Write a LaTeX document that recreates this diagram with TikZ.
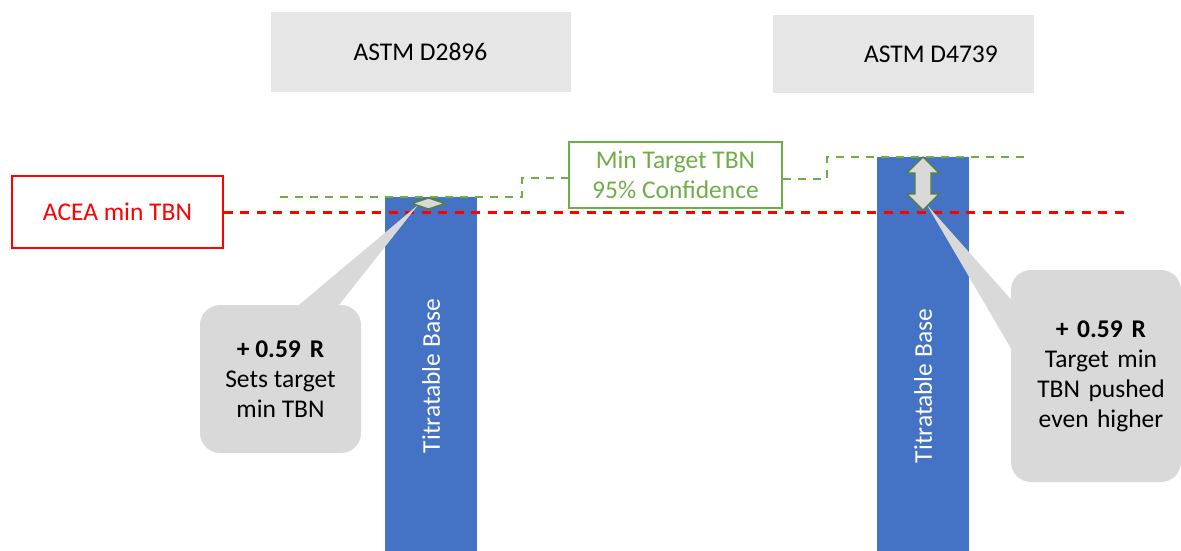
\documentclass[tikz,border=0pt]{standalone}
\usepackage{fontspec}
\setmainfont{Carlito}
\definecolor{barblue}{HTML}{4472C4}
\definecolor{tgray}{HTML}{E7E6E6}
\definecolor{cgray}{HTML}{D9D9D9}
\definecolor{lgreen}{HTML}{70AD47}
\definecolor{dgreen}{HTML}{548235}
\definecolor{redc}{HTML}{FF0000}
\begin{document}
\begin{tikzpicture}[x=1pt,y=-1pt,
  every node/.style={font=\fontsize{25.5}{30}\selectfont, inner sep=0pt, align=center},
  titlebox/.style={fill=tgray, text=black},
  bar/.style={fill=barblue, draw=none},
  reddash/.style={draw=redc, line width=3pt, dash pattern=on 9pt off 7.5pt},
  greendash/.style={draw=lgreen, line width=2.6pt, dash pattern=on 8pt off 7pt},
  callout/.style={fill=cgray, rounded corners=20pt, text=black},
  marker/.style={fill=cgray, draw=dgreen, line width=1.3pt, line join=miter},
  barlabel/.style={text=white, rotate=90}
]
\useasboundingbox (0,0) rectangle (1181,551);
% titles
\node[titlebox, minimum width=300pt, minimum height=80pt] (t1) at (420.5,52) {ASTM D2896};
\node[titlebox, minimum width=261pt, minimum height=78pt] (t2) at (903.5,54) {};
\node[text=black] (t2l) at (931,54) {ASTM D4739};
% bars
\fill[bar] (385,197) rectangle (477,551);
\fill[bar] (877,157) rectangle (969,551);
\node[barlabel] (b1) at (431,376) {Titratable Base};
\node[barlabel] (b2) at (923,386) {Titratable Base};
% ACEA box and red line
\node[draw=redc, line width=1.3pt, text=redc, minimum width=211pt, minimum height=72pt] (acea) at (117.5,212) {ACEA min TBN};
\coordinate (redend) at (1125,212);
\draw[reddash] (acea.east) -- (redend);
% green target box and step line
\node[draw=lgreen, line width=1.3pt, text=lgreen, minimum width=213pt, minimum height=66pt] (tgt) at (675.5,175) {Min Target TBN\\95\% Confidence};
\coordinate (gl0) at (280,197);
\coordinate (gr0) at (1030,157);
\draw[greendash] (gl0) -- (522,197) -- (522,178) -- (tgt.west |- 0,178);
\draw[greendash] (tgt.east |- 0,179) -- (827,179) -- (827,157) -- (gr0);
% callouts
\node[callout, minimum width=161pt, minimum height=148pt] (c1) at (280.5,379)
  {{\bfseries + 0.59\hspace{0.35em}R}\\Sets target\\min TBN};
\node[callout, minimum width=170pt, minimum height=212pt, text width=170pt] (c2) at (1096,376)
  {\hspace*{10pt}{\bfseries + 0.59\hspace{0.35em}R}\\\hspace*{10pt}Target min\\\hspace*{10pt}TBN pushed\\\hspace*{10pt}even higher};
\coordinate (tip1) at (418,205);
\coordinate (tip2) at (927,205);
\fill[cgray] (293,310) -- (tip1) -- (335,310) -- cycle;
\fill[cgray] (1016,305) -- (tip2) -- (1016,357) -- cycle;
% diamond marker
\draw[marker] (412,203.5) -- (428.5,198) -- (445,203.5) -- (428.5,209) -- cycle;
% double arrow
\draw[marker] (923,157) -- (939,173) -- (931,173) -- (931,194) -- (939,194) -- (923,210)
  -- (907,194) -- (915,194) -- (915,173) -- (907,173) -- cycle;
\end{tikzpicture}
\end{document}
